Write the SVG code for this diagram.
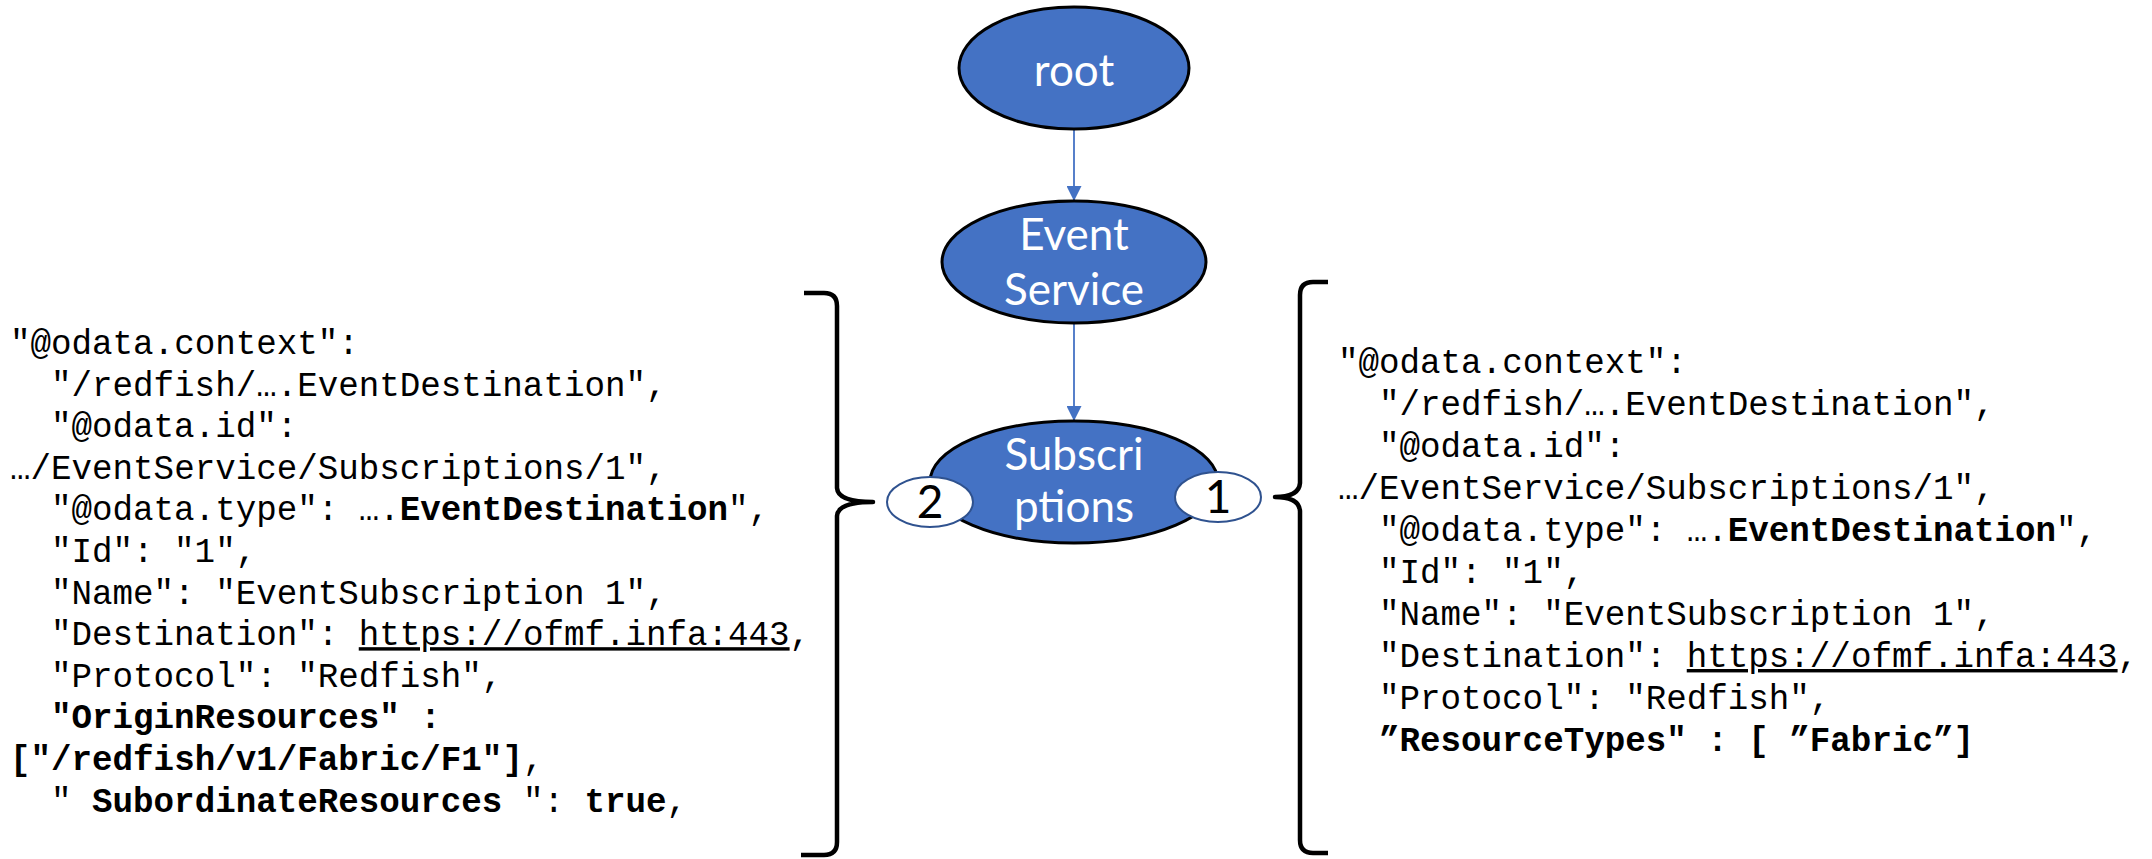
<svg xmlns="http://www.w3.org/2000/svg" width="2152" height="859" viewBox="0 0 2152 859">
<style>
.node{fill:#4472C4;stroke:#000;stroke-width:3}
.badge{fill:#fff;stroke:#2F528F;stroke-width:2}
.lbl{font-family:Lato,"Open Sans",sans-serif;font-size:44px;fill:#fff;text-anchor:middle}
.num{font-family:Lato,"Open Sans",sans-serif;font-size:46px;fill:#000;text-anchor:middle}
.edge{stroke:#4472C4;stroke-width:1.8;fill:none}
.brace{stroke:#000;stroke-width:4.5;fill:none;stroke-linejoin:round;stroke-linecap:butt}
.code{font-family:"Liberation Mono","Courier New",monospace;font-size:34.2px;fill:#000}
.b{font-weight:bold}
.u{text-decoration:underline}
</style>
<defs>
<marker id="arr" viewBox="0 0 10 10" refX="10" refY="5" markerWidth="15" markerHeight="15" markerUnits="userSpaceOnUse" orient="auto">
<path d="M0,0 L10,5 L0,10 z" fill="#4472C4"/>
</marker>
</defs>
<g id="connectors">
<line class="edge" x1="1074" y1="129" x2="1074" y2="201" marker-end="url(#arr)"/>
<line class="edge" x1="1074" y1="323" x2="1074" y2="421" marker-end="url(#arr)"/>
</g>
<g id="root">
<ellipse class="node" cx="1074" cy="68" rx="115" ry="61"/>
<text class="lbl" x="1074" y="86">root</text>
</g>
<g id="event-service">
<ellipse class="node" cx="1074" cy="262" rx="132" ry="61"/>
<text class="lbl" x="1074" y="250">Event</text>
<text class="lbl" x="1074" y="305">Service</text>
</g>
<g id="subscriptions">
<ellipse class="node" cx="1074" cy="482" rx="144" ry="61"/>
<text class="lbl" x="1074" y="470">Subscri</text>
<text class="lbl" x="1074" y="522">ptions</text>
</g>
<g id="badge-2">
<ellipse class="badge" cx="930" cy="502" rx="43" ry="25"/>
<text class="num" x="930" y="518">2</text>
</g>
<g id="badge-1">
<ellipse class="badge" cx="1218" cy="497" rx="43" ry="25"/>
<text class="num" x="1218" y="513">1</text>
</g>
<g id="brace-left">
<path class="brace" d="M804,293 L824,293 Q837,293 837,306 L837,488 Q838,502 873,502 Q838,502 837,516 L837,842 Q837,855 824,855 L801,855"/>
</g>
<g id="brace-right">
<path class="brace" d="M1328,282 L1313,282 Q1300,282 1300,295 L1300,483 Q1299,497 1275,497 Q1299,497 1300,511 L1300,840 Q1300,853 1313,853 L1328,853"/>
</g>
<g id="subscription-2">
<text class="code" xml:space="preserve" x="10" y="354">"@odata.context":</text>
<text class="code" xml:space="preserve" x="51" y="395.6">"/redfish/….EventDestination",</text>
<text class="code" xml:space="preserve" x="51" y="437.2">"@odata.id":</text>
<text class="code" xml:space="preserve" x="10" y="478.8">…/EventService/Subscriptions/1",</text>
<text class="code" xml:space="preserve" x="51" y="520.4">"@odata.type": ….<tspan class="b">EventDestination</tspan>",</text>
<text class="code" xml:space="preserve" x="51" y="562">"Id": "1",</text>
<text class="code" xml:space="preserve" x="51" y="603.6">"Name": "EventSubscription 1",</text>
<text class="code" xml:space="preserve" x="51" y="645.2">"Destination": <tspan class="u">https://ofmf.infa:443</tspan>,</text>
<text class="code" xml:space="preserve" x="51" y="686.8">"Protocol": "Redfish",</text>
<text class="code b" xml:space="preserve" x="51" y="728.4">"OriginResources" :</text>
<text class="code" xml:space="preserve" x="10" y="770"><tspan class="b">["/redfish/v1/Fabric/F1"]</tspan>,</text>
<text class="code" xml:space="preserve" x="51" y="811.6">" <tspan class="b">SubordinateResources</tspan> ": <tspan class="b">true</tspan>,</text>
</g>
<g id="subscription-1">
<text class="code" xml:space="preserve" x="1338" y="373">"@odata.context":</text>
<text class="code" xml:space="preserve" x="1379" y="415">"/redfish/….EventDestination",</text>
<text class="code" xml:space="preserve" x="1379" y="457">"@odata.id":</text>
<text class="code" xml:space="preserve" x="1338" y="499">…/EventService/Subscriptions/1",</text>
<text class="code" xml:space="preserve" x="1379" y="541">"@odata.type": ….<tspan class="b">EventDestination</tspan>",</text>
<text class="code" xml:space="preserve" x="1379" y="583">"Id": "1",</text>
<text class="code" xml:space="preserve" x="1379" y="625">"Name": "EventSubscription 1",</text>
<text class="code" xml:space="preserve" x="1379" y="667">"Destination": <tspan class="u">https://ofmf.infa:443</tspan>,</text>
<text class="code" xml:space="preserve" x="1379" y="709">"Protocol": "Redfish",</text>
<text class="code b" xml:space="preserve" x="1379" y="751">”ResourceTypes" : [ ”Fabric”]</text>
</g>
</svg>
